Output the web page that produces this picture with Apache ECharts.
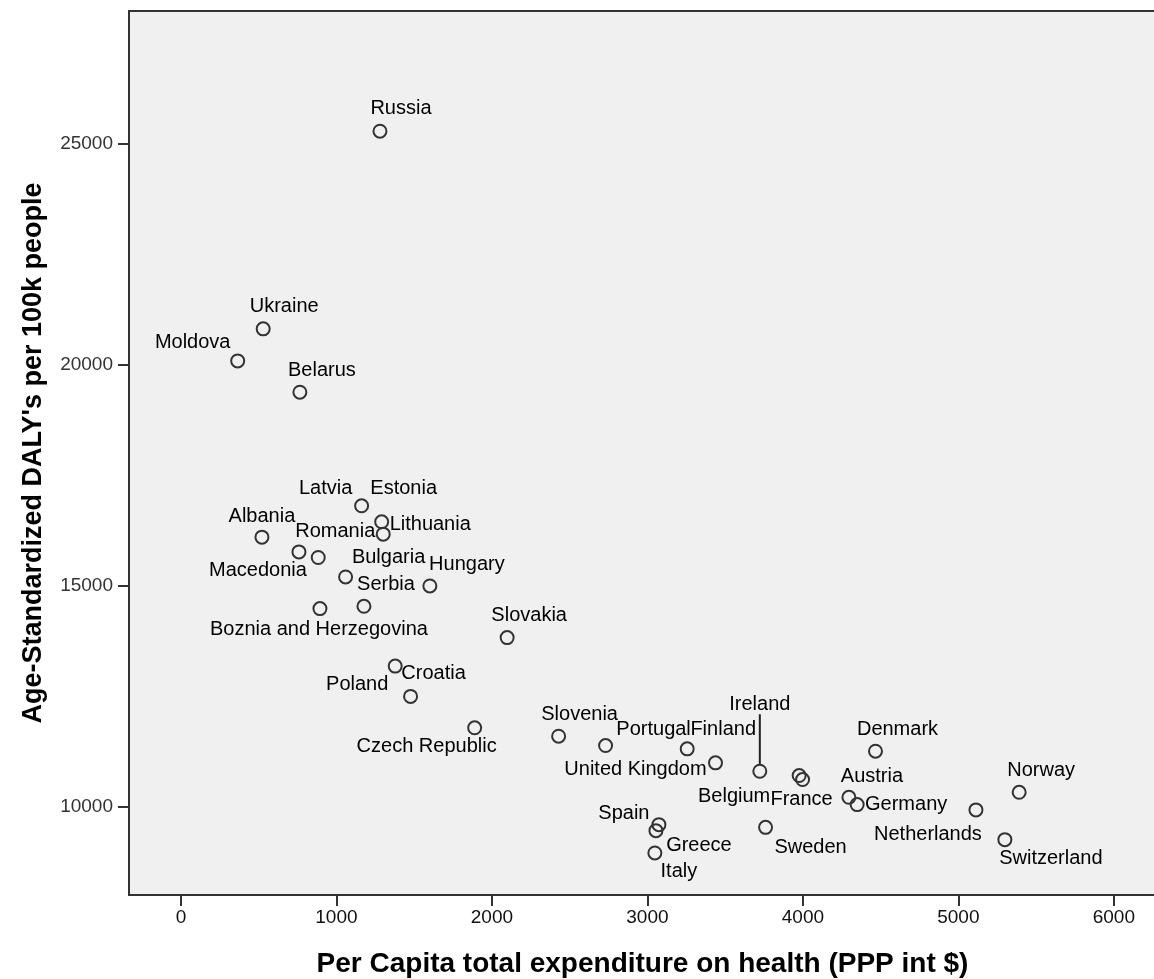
<!DOCTYPE html>
<html>
<head>
<meta charset="utf-8">
<script src="https://cdn.jsdelivr.net/npm/echarts@6/dist/echarts.min.js"></script>
<style>
html,body{margin:0;padding:0;background:#fff;}
#chart{width:1154px;height:979px;}
</style>
</head>
<body>
<div id="chart"></div>
<script>
// ---- data ----
const countries = ["Russia","Ukraine","Moldova","Belarus","Latvia","Estonia","Lithuania","Albania","Macedonia","Romania","Bulgaria","Hungary","Boznia and Herzegovina","Serbia","Slovakia","Poland","Croatia","Czech Republic","Slovenia","Portugal","Finland","United Kingdom","Ireland","Belgium","France","Austria","Germany","Denmark","Netherlands","Norway","Switzerland","Sweden","Spain","Greece","Italy"];
const healthExpenditure = [1280,529,365,765,1162,1291,1301,521,759,883,1059,1601,894,1177,2098,1378,1477,1889,2429,2731,3256,3438,3723,3976,3998,4296,4349,4467,5113,5391,5299,3760,3074,3055,3048];
const dalys = [25280,20809,20084,19375,16805,16443,16164,16096,15763,15636,15196,14992,14480,14532,13823,13179,12493,11783,11593,11382,11307,10990,10800,10702,10612,10211,10045,11253,9925,10324,9252,9531,9592,9456,8951];
const xTicks = [0,1000,2000,3000,4000,5000,6000];
const yTicks = [10000,15000,20000,25000];
const xTitle = "Per Capita total expenditure on health (PPP int $)";
const yTitle = "Age-Standardized DALY's per 100k people";

// ---- label placement (style, px offsets from point centre) ----
const labelOffsets = {
  "Russia":[21,-23],"Ukraine":[21,-22],"Moldova":[-45,-18],"Belarus":[22,-22],
  "Latvia":[-36,-17],"Estonia":[22,-33],"Lithuania":[47,-10],"Albania":[0,-21],
  "Macedonia":[-41,19],"Romania":[17,-26],"Bulgaria":[43,-19],"Hungary":[37,-21],
  "Boznia and Herzegovina":[-1,21],"Serbia":[22,-22],"Slovakia":[22,-22],
  "Poland":[-38,18],"Croatia":[23,-23],"Czech Republic":[-48,19],"Slovenia":[21,-22],
  "Portugal":[48,-16],"Finland":[36,-19],"United Kingdom":[-80,7],"Ireland":[0,-67],
  "Belgium":[-65,21],"France":[-1,20],"Austria":[23,-21],"Germany":[49,0],
  "Denmark":[22,-22],"Netherlands":[-48,25],"Norway":[22,-22],"Switzerland":[46,19],
  "Sweden":[45,20],"Spain":[-35,-11],"Greece":[43,15],"Italy":[24,19]
};
const leaderLineFor = ["Ireland"];

const seriesData = countries.map((c, i) => ({
  name: c,
  value: [healthExpenditure[i], dalys[i]],
  labelLine: { show: leaderLineFor.indexOf(c) >= 0 }
}));

const FONT = 'Liberation Sans, Arial, sans-serif';
const chart = echarts.init(document.getElementById('chart'), null, {renderer:'canvas'});
chart.setOption({
  backgroundColor: '#ffffff',
  animation: false,
  grid: {
    left: 129, top: 11, width: 1027, bottom: 84,
    outerBoundsMode: 'none', containLabel: false,
    show: true, backgroundColor: '#f0f0f0', borderColor: '#333', borderWidth: 2
  },
  xAxis: {
    type: 'value', min: -334, max: 6271,
    name: xTitle, nameLocation: 'middle', nameGap: 55,
    nameTextStyle: { fontFamily: FONT, fontWeight: 'bold', fontSize: 28, color: '#000' },
    axisLine: { show: true, onZero: false, lineStyle: { color: '#333', width: 2 } },
    axisTick: { show: true, length: 11, customValues: xTicks, lineStyle: { color: '#333', width: 2 } },
    axisLabel: { customValues: xTicks, margin: 13, fontFamily: FONT, fontSize: 19, color: '#111', formatter: v => String(v) },
    splitLine: { show: false }
  },
  yAxis: {
    type: 'value', min: 8000, max: 28000,
    name: yTitle, nameLocation: 'middle', nameGap: 82, nameRotate: 90,
    nameTextStyle: { fontFamily: FONT, fontWeight: 'bold', fontSize: 27, color: '#000' },
    axisLine: { show: true, onZero: false, lineStyle: { color: '#333', width: 2 } },
    axisTick: { show: true, length: 11, customValues: yTicks, lineStyle: { color: '#333', width: 2 } },
    axisLabel: { customValues: yTicks, margin: 16, fontFamily: FONT, fontSize: 19, color: '#333', formatter: v => String(v) },
    splitLine: { show: false }
  },
  series: [{
    type: 'scatter',
    data: seriesData,
    symbol: 'circle',
    symbolSize: 13,
    itemStyle: { color: 'rgba(0,0,0,0)', borderColor: '#333', borderWidth: 2, opacity: 1 },
    label: {
      show: true,
      formatter: p => p.name,
      position: 'inside',
      align: 'center',
      verticalAlign: 'middle',
      fontFamily: FONT,
      fontSize: 20,
      color: '#000',
      opacity: 1
    },
    labelLine: { show: false, lineStyle: { color: '#222', width: 2, opacity: 1 } },
    labelLayout: function (params) {
      const o = labelOffsets[countries[params.dataIndex]] || [0, -20];
      return { dx: o[0], dy: o[1] };
    },
    emphasis: { disabled: true }
  }]
});
</script>
</body>
</html>
